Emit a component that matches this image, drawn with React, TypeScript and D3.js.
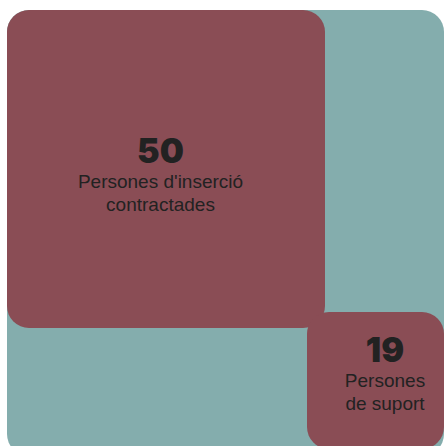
import React from 'react';
import * as d3 from 'd3';

const labels = ['50', '19'];
const values = [50, 19];
const captions = [["Persones d'inserció", 'contractades'], ['Persones', 'de suport']];

const W = 444;
const H = 446;
const maroon = '#8a4d55';
const teal = '#84adad';
const ink = '#222222';

export default function App() {
    // side length of each square from its value
    const side = d3.scaleLinear().domain([19, 50]).range([137, 318]);

    const big = { x: 7, y: 10, s: side(values[0]) };
    const small = { x: big.x + big.s - 18, y: big.y + big.s - 16, s: side(values[1]) };
    const boxes = [
        { ...big, cx: big.x + big.s / 2 - 5.5, top: 138 },
        { ...small, cx: small.x + small.s / 2 + 9.5, top: 337 },
    ];

    return (
        <svg width={W} height={H} style={{ position: 'absolute', left: 0, top: 0 }}>
            <rect x={7} y={10} width={W - 7} height={H} rx={22} fill={teal} />
            {boxes.map((b, i) => (
                <g key={i}>
                    <rect x={b.x} y={b.y} width={b.s} height={b.s} rx={22} fill={maroon} />
                    <text
                        x={b.cx}
                        y={b.top + 25}
                        textAnchor="middle"
                        fontFamily="Inter"
                        fontWeight={900}
                        fontSize={34}
                        fill={ink}
                    >
                        {labels[i]}
                    </text>
                    {captions[i].map((line, j) => (
                        <text
                            key={j}
                            x={b.cx}
                            y={b.top + 49.5 + j * 23}
                            textAnchor="middle"
                            fontFamily="Liberation Sans, Arial, sans-serif"
                            fontSize={19}
                            fill={ink}
                        >
                            {line}
                        </text>
                    ))}
                </g>
            ))}
        </svg>
    );
}
